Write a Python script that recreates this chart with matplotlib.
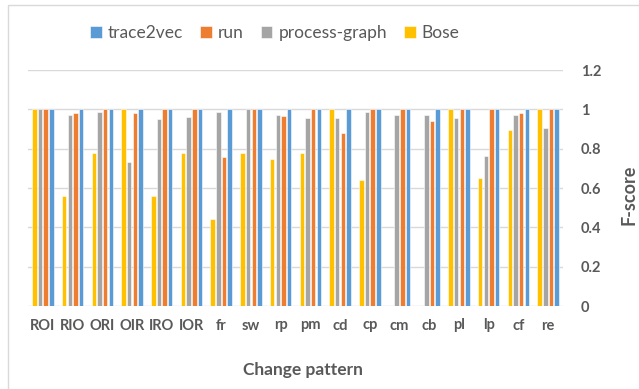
import matplotlib
matplotlib.use("Agg")
import matplotlib.pyplot as plt
from matplotlib.patches import Rectangle
import numpy as np

plt.rcParams['font.family'] = ['Lato', 'DejaVu Sans']

categories = ["ROI", "RIO", "ORI", "OIR", "IRO", "IOR", "fr", "sw", "rp", "pm",
              "cd", "cp", "cm", "cb", "pl", "lp", "cf", "re"]

bose = [1.0, 0.56, 0.78, 1.0, 0.56, 0.78, 0.44, 0.78, 0.75, 0.78,
        1.0, 0.64, 0.0, 0.0, 1.0, 0.65, 0.895, 1.0]
process_graph = [1.0, 0.973, 0.988, 0.733, 0.949, 0.961, 0.986, 1.0, 0.973, 0.956,
                 0.954, 0.986, 0.973, 0.973, 0.957, 0.761, 0.973, 0.903]
run = [1.0, 0.983, 1.0, 0.981, 1.0, 1.0, 0.757, 1.0, 0.966, 1.0,
       0.879, 1.0, 1.0, 0.939, 1.0, 1.0, 0.983, 1.0]
trace2vec = [1.0] * 18

series = [("Bose", bose, "#FFC000"),
          ("process-graph", process_graph, "#A5A5A5"),
          ("run", run, "#ED7D31"),
          ("trace2vec", trace2vec, "#5B9BD5")]

W, H = 639, 389
fig = plt.figure(figsize=(W / 100, H / 100), dpi=100)
ax = fig.add_axes([28 / W, 1 - 306 / H, (563 - 28) / W, (306 - 70) / H])

x = np.arange(len(categories))
step = 0.19
width = 0.15
handles = {}
for i, (name, vals, col) in enumerate(series):
    off = (i - 1.5) * step
    b = ax.bar(x + off, vals, width, color=col, edgecolor="white", linewidth=0.4,
               zorder=3, label=name)
    handles[name] = b

ax.set_xlim(-0.5, len(categories) - 0.5)
ax.set_ylim(0, 1.2)
ax.set_yticks(np.arange(0, 1.21, 0.2))
ax.yaxis.tick_right()
ax.set_yticklabels(["0", "0.2", "0.4", "0.6", "0.8", "1", "1.2"])
ax.grid(axis="y", color="#D9D9D9", linewidth=1.0, zorder=0)
ax.set_xticks(x)
ax.set_xticklabels(categories)
for s in ax.spines.values():
    s.set_visible(False)
ax.tick_params(length=0)
ax.tick_params(axis="x", pad=9)
ax.tick_params(axis="y", pad=13)
for lbl in ax.get_xticklabels() + ax.get_yticklabels():
    lbl.set_color("#595959")
    lbl.set_fontweight("bold")
    lbl.set_fontsize(10.5)

fig.text(303 / W, 1 - 370 / H, "Change pattern", ha="center", va="center",
         fontsize=12.5, fontweight="bold", color="#595959")
fig.text(638 / W, 1 - 195 / H, "F-score", ha="right", va="center", rotation=90,
         fontsize=13, fontweight="bold", color="#595959")

order = ["trace2vec", "run", "process-graph", "Bose"]
leg = fig.legend([handles[n] for n in order], order, loc="center",
                 bbox_to_anchor=(275 / W, 1 - 33 / H), ncol=4, frameon=False,
                 fontsize=12.5, handlelength=0.65, handleheight=0.65,
                 handletextpad=0.35, columnspacing=1.0)
for t in leg.get_texts():
    t.set_color("#595959")

fig.patches.append(Rectangle((8 / W, -0.1), 1.2, 1 - 5 / H + 0.1,
                             transform=fig.transFigure, fill=False,
                             edgecolor="#D9D9D9", linewidth=1.0))

fig.savefig("out.png", dpi=100)
